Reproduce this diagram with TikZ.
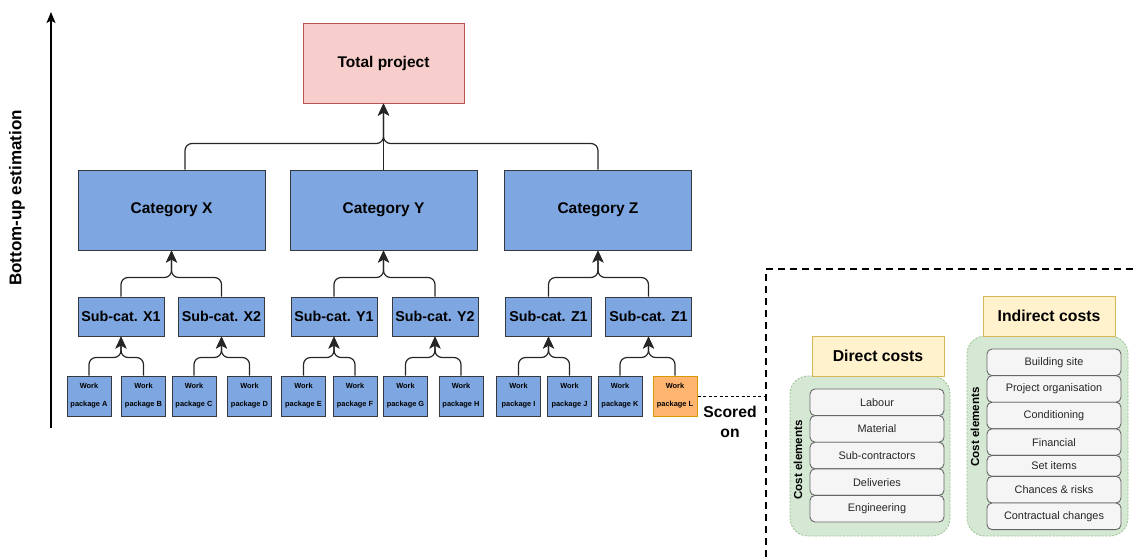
\documentclass[tikz,border=0pt]{standalone}
\usepackage{fontspec}
\setmainfont{Liberation Sans}
\usepackage{tikz}
\usetikzlibrary{arrows.meta,calc}
\definecolor{azul}{HTML}{7EA6E0}
\definecolor{borde}{HTML}{36393D}
\definecolor{rosa}{HTML}{F8CECC}
\definecolor{rosaborde}{HTML}{B85450}
\definecolor{naranja}{HTML}{FFB570}
\definecolor{naranjaborde}{HTML}{D79B00}
\definecolor{crema}{HTML}{FFF2CC}
\definecolor{cremaborde}{HTML}{D6B656}
\definecolor{verde}{HTML}{D5E8D4}
\definecolor{verdeborde}{HTML}{97C18B}
\definecolor{gris}{HTML}{F5F5F5}
\definecolor{grisborde}{HTML}{666666}
\tikzstyle{caja}=[draw=borde, fill=azul, line width=1pt, text centered, inner sep=0pt]
\tikzstyle{total}=[caja, draw=rosaborde, fill=rosa, minimum width=161pt,
  minimum height=80pt, font=\bfseries\fontsize{15.5}{18}\selectfont]
\tikzstyle{categoria}=[caja, minimum width=187pt, minimum height=80pt,
  font=\bfseries\fontsize{15.5}{18}\selectfont]
\tikzstyle{subcat}=[caja, minimum width=86pt, minimum height=39pt,
  font=\bfseries\fontsize{14.3}{17}\selectfont]
\tikzstyle{paquete}=[caja, minimum width=44pt, minimum height=40pt, align=center,
  font=\bfseries\fontsize{7.4}{18}\selectfont]
\tikzstyle{titulo}=[draw=cremaborde, fill=crema, line width=1pt, minimum width=132pt,
  minimum height=40pt, font=\bfseries\fontsize{15.8}{18}\selectfont]
\tikzstyle{grupo}=[draw=verdeborde, fill=verde, line width=0.8pt, rounded corners=18pt,
  dash pattern=on 2pt off 1.5pt]
\tikzstyle{elem}=[draw=grisborde, fill=gris, line width=0.9pt, rounded corners=5pt,
  minimum width=134pt, minimum height=26.6pt, inner sep=0pt, outer sep=0pt,
  anchor=north, text=black!85, font=\fontsize{10.9}{13}\selectfont]
\tikzstyle{texto}=[font=\bfseries\fontsize{11.6}{13}\selectfont, rotate=90]
\tikzstyle{line}=[draw, line width=1.2pt, color=black!85, rounded corners=7pt,
  -{Stealth[length=12pt, width=11pt, inset=3pt]}]
\newcommand{\paquete}[1]{node (w#1) [paquete] {Work\\package #1}}
\newcommand{\unir}[3]{%
  \path [line] (#1.north) |- ($(#2.south)+(0,#3)$) -- (#2.south);}

\begin{document}
\begin{tikzpicture}[x=1pt,y=-1pt]
\useasboundingbox (0,0) rectangle (1133,558);

  % Axis
\path (51,428) coordinate (ax1) (51,12) coordinate (ax2);
\path [draw, line width=1.2pt, -{Stealth[length=11pt, width=9pt, inset=2.5pt]}] (ax1) -- (ax2);
\path (17,198) node (eje) [texto, font=\bfseries\fontsize{17}{20}\selectfont]
  {Bottom-up estimation};

  % Tree
\path (383.5,63) node (tp) [total] {Total project};

\path (171.5,210) node (cX) [categoria] {Category X};
\path (383.5,210) node (cY) [categoria] {Category Y};
\path (598,210) node (cZ) [categoria] {Category Z};

\path (121,316.5) node (sX1) [subcat] {Sub-cat. X1};
\path (221.5,316.5) node (sX2) [subcat] {Sub-cat. X2};
\path (334,316.5) node (sY1) [subcat] {Sub-cat. Y1};
\path (435,316.5) node (sY2) [subcat] {Sub-cat. Y2};
\path (548.5,316.5) node (sZ1) [subcat] {Sub-cat. Z1};
\path (648.5,316.5) node (sZ2) [subcat] {Sub-cat. Z1};

\path (89,396) \paquete{A};
\path (143.5,396) \paquete{B};
\path (194,396) \paquete{C};
\path (249.5,396) \paquete{D};
\path (303.5,396) \paquete{E};
\path (355,396) \paquete{F};
\path (405.5,396) \paquete{G};
\path (461,396) \paquete{H};
\path (518.5,396) \paquete{I};
\path (569.5,396) \paquete{J};
\path (620,396) \paquete{K};
\path (675,396) node (wL) [paquete, draw=naranjaborde, fill=naranja] {Work\\package L};

  % Draw arrows between elements
\path [line] ($(cX.north)+(13.5,0)$) |- ($(tp.south)+(0,40)$) -- (tp.south);
\path [line] (cY.north) -- (tp.south);
\unir{cZ}{tp}{40}

\unir{sX1}{cX}{27}
\unir{sX2}{cX}{27}
\unir{sY1}{cY}{27}
\unir{sY2}{cY}{27}
\unir{sZ1}{cZ}{27}
\unir{sZ2}{cZ}{27}

\unir{wA}{sX1}{21}
\unir{wB}{sX1}{21}
\unir{wC}{sX2}{21}
\unir{wD}{sX2}{21}
\unir{wE}{sY1}{21}
\unir{wF}{sY1}{21}
\unir{wG}{sY2}{21}
\unir{wH}{sY2}{21}
\unir{wI}{sZ1}{21}
\unir{wJ}{sZ1}{21}
\unir{wK}{sZ2}{21}
\unir{wL}{sZ2}{21}

  % Cost elements frame
\path (766,269) coordinate (f1) (1133,269) coordinate (f2) (766,558) coordinate (f3);
\path [draw, line width=1.6pt, dash pattern=on 7pt off 5pt] (f2) -- (f1) -- (f3);
\path (wL.east -| f1) coordinate (fL);
\path [draw, line width=0.8pt, dash pattern=on 3pt off 2.5pt] (wL.east) -- (fL);
\path (730,422) node (scored) [align=center, font=\bfseries\fontsize{15.7}{20}\selectfont]
  {Scored\\on};

  % Direct costs
\path (870,456) node (gD) [grupo, minimum width=160pt, minimum height=160pt] {};
\path (878,356) node (tD) [titulo] {Direct costs};
\path (877,389) node (d1) [elem] {Labour};
\path (d1.south) node (d2) [elem] {Material};
\path (d2.south) node (d3) [elem] {Sub-contractors};
\path (d3.south) node (d4) [elem] {Deliveries};
\path (d4.south) node (d5) [elem] {Engineering};
\path (798,460) node (ceD) [texto] {Cost elements};

  % Indirect costs
\path (1047.5,436) node (gI) [grupo, minimum width=161pt, minimum height=200pt] {};
\path (1049,316) node (tI) [titulo] {Indirect costs};
\path (1054,349) node (i1) [elem] {Building site};
\path (i1.south) node (i2) [elem] {Project organisation};
\path (i2.south) node (i3) [elem] {Conditioning};
\path (i3.south) node (i4) [elem] {Financial};
\path (i4.south) node (i5) [elem, minimum height=21pt, text depth=-2pt] {Set items};
\path (i5.south) node (i6) [elem] {Chances \& risks};
\path (i6.south) node (i7) [elem] {Contractual changes};
\path (975,427) node (ceI) [texto] {Cost elements};
\end{tikzpicture}
\end{document}
